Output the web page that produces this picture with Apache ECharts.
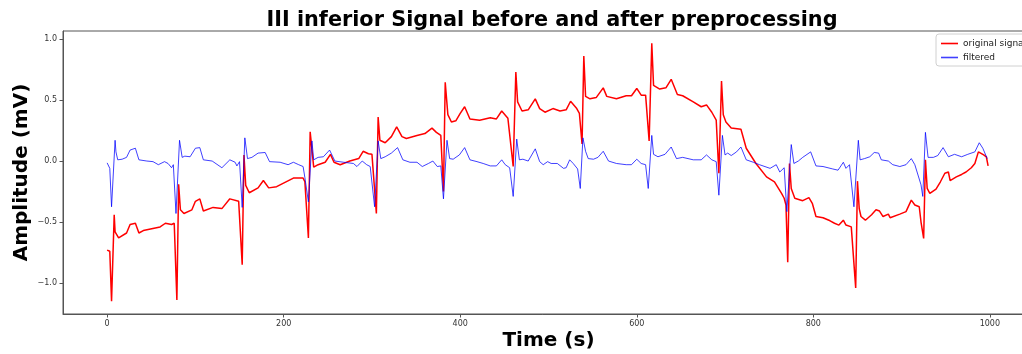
<!DOCTYPE html>
<html>
<head>
<meta charset="utf-8">
<script src="https://cdn.jsdelivr.net/npm/echarts@6/dist/echarts.min.js"></script>
<style>html,body{margin:0;padding:0;background:#fff}#c{width:1022px;height:354px}</style>
</head>
<body>
<div id="c"></div>
<script>
// ---- data (time in samples, amplitude in mV) ----
const timeOriginal = [0,3,5,8,9,13,22,26,32,36,41,60,66,73,76,79,81,83,87,96,100,105,109,120,130,139,149,151,153,155,157,161,171,177,183,192,211,219,222,224,228,230,234,239,247,253,257,264,275,285,290,296,300,305,307,309,315,322,328,334,339,351,360,368,373,378,381,383,386,390,395,400,405,411,422,434,441,447,454,460,463,465,470,477,485,490,496,505,513,520,525,532,535,538,540,542,547,554,562,566,577,588,594,600,605,610,614,617,619,626,633,639,646,652,664,673,679,685,690,693,696,698,701,707,718,724,735,747,756,764,767,769,771,773,775,779,788,795,799,803,811,819,824,829,834,837,843,848,850,852,854,859,866,871,875,879,885,887,898,905,911,915,920,922,925,927,929,932,939,944,949,953,955,962,968,973,979,983,987,993,996,998];
const ampOriginal  = [-0.73,-0.74,-1.15,-0.44,-0.58,-0.63,-0.59,-0.52,-0.51,-0.59,-0.57,-0.54,-0.51,-0.52,-0.51,-1.14,-0.19,-0.40,-0.43,-0.40,-0.33,-0.31,-0.41,-0.38,-0.39,-0.31,-0.33,-0.33,-0.85,0.05,-0.20,-0.26,-0.22,-0.16,-0.22,-0.21,-0.14,-0.14,-0.14,-0.17,-0.63,0.24,-0.05,-0.03,-0.01,0.055,-0.01,-0.03,0.0,0.02,0.08,0.06,0.055,-0.43,0.36,0.17,0.15,0.20,0.28,0.20,0.185,0.21,0.225,0.27,0.235,0.21,-0.25,0.645,0.38,0.32,0.33,0.39,0.445,0.345,0.335,0.355,0.345,0.41,0.35,-0.045,0.73,0.485,0.41,0.42,0.51,0.43,0.40,0.43,0.41,0.42,0.49,0.43,0.39,0.14,0.86,0.53,0.51,0.52,0.60,0.53,0.51,0.535,0.535,0.595,0.54,0.54,0.165,0.965,0.62,0.59,0.60,0.67,0.545,0.535,0.485,0.445,0.46,0.40,0.335,-0.10,0.655,0.38,0.32,0.27,0.26,0.105,-0.02,-0.13,-0.17,-0.265,-0.305,-0.36,-0.83,-0.02,-0.225,-0.305,-0.325,-0.30,-0.35,-0.455,-0.465,-0.49,-0.51,-0.525,-0.485,-0.525,-0.54,-1.04,-0.165,-0.39,-0.455,-0.485,-0.44,-0.40,-0.41,-0.455,-0.435,-0.465,-0.435,-0.415,-0.32,-0.36,-0.375,-0.50,-0.635,0.01,-0.225,-0.265,-0.23,-0.17,-0.10,-0.09,-0.16,-0.13,-0.11,-0.09,-0.055,-0.02,0.075,0.05,0.035,-0.04];

const timeFiltered = [0,3,5,9,10,12,17,22,26,32,36,45,52,58,65,69,73,75,78,82,85,88,94,100,105,109,119,130,139,145,147,150,153,156,159,164,171,179,184,196,205,211,217,222,224,228,232,234,239,245,252,258,268,279,283,289,294,298,303,307,310,315,322,329,335,343,351,357,364,369,374,378,381,385,388,392,399,405,411,419,426,434,441,447,451,456,460,464,467,471,477,485,490,494,499,503,510,517,520,524,528,533,536,539,542,545,551,556,562,568,577,588,594,600,605,610,613,617,619,624,632,639,645,652,664,673,679,685,690,693,697,700,703,707,713,718,724,732,739,751,758,762,767,770,775,778,783,788,797,803,811,822,828,834,837,841,846,851,853,858,864,869,874,877,885,890,898,905,911,915,922,924,927,930,936,941,947,953,960,968,975,983,988,992,997];
const ampFiltered  = [-0.015,-0.06,-0.375,0.17,0.075,0.01,0.015,0.03,0.09,0.105,0.01,0.0,-0.005,-0.03,-0.005,-0.02,-0.055,-0.03,-0.43,0.17,0.03,0.04,0.035,0.105,0.11,0.01,0.0,-0.055,0.01,-0.01,-0.04,-0.005,-0.38,0.19,0.02,0.03,0.065,0.07,-0.005,-0.01,-0.03,-0.01,-0.03,-0.045,-0.135,-0.335,0.165,0.01,0.03,0.035,0.09,0.0,-0.01,-0.02,-0.045,0.0,-0.03,-0.045,-0.375,0.165,0.02,0.035,0.065,0.11,0.01,-0.01,-0.01,-0.045,-0.02,0.0,-0.045,-0.04,-0.31,0.17,0.02,0.015,0.05,0.11,0.01,-0.005,-0.02,-0.04,-0.04,0.01,-0.03,-0.055,-0.29,0.18,0.01,0.015,0.0,0.10,-0.005,-0.03,-0.005,-0.02,-0.02,-0.06,-0.055,0.01,-0.02,-0.065,-0.225,0.19,0.08,0.02,0.015,0.03,0.08,0.0,-0.02,-0.03,-0.03,0.015,-0.02,-0.03,-0.225,0.21,0.055,0.035,0.055,0.115,0.02,0.03,0.01,0.01,0.05,0.01,-0.005,-0.28,0.21,0.05,0.065,0.045,0.075,0.115,0.01,-0.01,-0.03,-0.06,-0.03,-0.09,-0.055,-0.415,0.135,-0.02,0.0,0.03,0.075,-0.04,-0.045,-0.065,-0.075,-0.01,-0.06,-0.03,-0.375,0.17,0.01,0.02,0.035,0.07,0.065,0.01,0.0,-0.03,-0.045,-0.03,0.02,-0.03,-0.195,-0.29,0.235,0.03,0.03,0.045,0.11,0.035,0.055,0.035,0.055,0.075,0.15,0.105,0.02];

const xTicks = [0, 200, 400, 600, 800, 1000];
const yTicks = [-1.0, -0.5, 0.0, 0.5, 1.0];
const seriesNames = ['original signal', 'filtered'];

const pairs = (t, a) => t.map((v, i) => [v, a[i]]);
const fmtY = v => (Math.abs(v) < 1e-9 ? '0.0' : v.toFixed(1).replace('-', '\u2212'));
const fmtX = v => String(Math.round(v));

const chart = echarts.init(document.getElementById('c'), null, {renderer: 'canvas'});
chart.setOption({
  animation: false,
  backgroundColor: '#ffffff',
  title: {
    text: 'III inferior Signal before and after preprocessing',
    left: 547, top: 5, textAlign: 'center',
    textStyle: {fontFamily: 'DejaVu Sans', fontWeight: 'bold', fontSize: 20.8, color: '#000'}
  },
  legend: {
    left: 936, top: 34, orient: 'vertical',
    data: seriesNames.map(n => ({name: n, icon: 'rect'})),
    itemWidth: 17, itemHeight: 1.6, itemGap: 5,
    padding: [5, 6, 4, 5],
    borderColor: '#d0d0d0', borderWidth: 1, borderRadius: 3, backgroundColor: '#fff',
    textStyle: {fontFamily: 'DejaVu Sans', fontSize: 9, color: '#222'}
  },
  grid: {left: 63, top: 31, right: -12, bottom: 40, show: true, borderColor: '#555', borderWidth: 1,
         outerBoundsMode: 'none', containLabel: false},
  xAxis: {
    type: 'value', min: -50, max: 1050,
    name: 'Time (s)', nameLocation: 'middle', nameGap: 17, nameMoveOverlap: false,
    nameTextStyle: {fontFamily: 'DejaVu Sans', fontWeight: 'bold', fontSize: 20, color: '#000'},
    axisLine: {show: true, onZero: false, lineStyle: {color: '#555'}},
    axisTick: {show: true, length: 3.5, customValues: xTicks, lineStyle: {color: '#555'}},
    axisLabel: {customValues: xTicks, formatter: fmtX, fontFamily: 'DejaVu Sans', fontSize: 8, color: '#333', margin: 6},
    splitLine: {show: false}
  },
  yAxis: {
    type: 'value', min: -1.254, max: 1.066,
    name: 'Amplitude (mV)', nameLocation: 'middle', nameGap: 31, nameRotate: 90, nameMoveOverlap: false,
    nameTextStyle: {fontFamily: 'DejaVu Sans', fontWeight: 'bold', fontSize: 20, color: '#000'},
    axisLine: {show: true, onZero: false, lineStyle: {color: '#555'}},
    axisTick: {show: true, length: 3.5, customValues: yTicks, lineStyle: {color: '#555'}},
    axisLabel: {customValues: yTicks, formatter: fmtY, fontFamily: 'DejaVu Sans', fontSize: 8, color: '#333', margin: 6},
    splitLine: {show: false}
  },
  series: [
    {name: seriesNames[0], type: 'line', data: pairs(timeOriginal, ampOriginal), symbol: 'none',
     lineStyle: {color: '#ff0000', width: 1.5}, itemStyle: {color: '#ff0000'}, z: 2},
    {name: seriesNames[1], type: 'line', data: pairs(timeFiltered, ampFiltered), symbol: 'none',
     lineStyle: {color: '#0000ff', width: 1, opacity: 0.75}, itemStyle: {color: '#4040ff'}, z: 3}
  ]
});
</script>
</body>
</html>
